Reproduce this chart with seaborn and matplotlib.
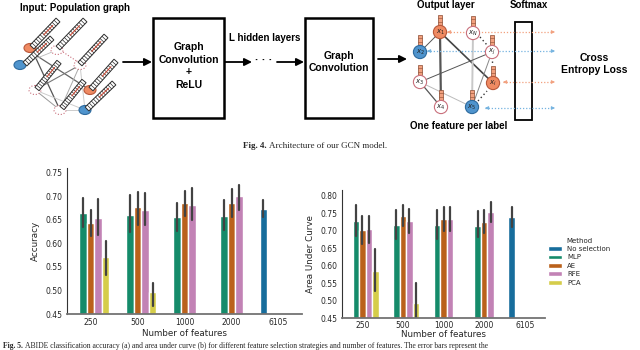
import numpy as np
import pandas as pd
import matplotlib
matplotlib.use("Agg")
import matplotlib.pyplot as plt
from matplotlib.patches import Rectangle, Polygon, Circle, Ellipse
from matplotlib.ticker import MultipleLocator, FormatStrFormatter
import seaborn as sns

# ---------------- data ----------------
features = ["250", "500", "1000", "2000", "6105"]
methods = ["No selection", "MLP", "AE", "RFE", "PCA"]
method_colors = ["#0173B2", "#029E73", "#D55E00", "#CC78BC", "#ECE133"]

bar_feature = ["250", "250", "250", "250",
               "500", "500", "500", "500",
               "1000", "1000", "1000",
               "2000", "2000", "2000",
               "6105"]
bar_method = ["MLP", "AE", "RFE", "PCA",
              "MLP", "AE", "RFE", "PCA",
              "MLP", "AE", "RFE",
              "MLP", "AE", "RFE",
              "No selection"]

acc_mean = [0.665, 0.644, 0.655, 0.571, 0.661, 0.678, 0.671, 0.497,
            0.657, 0.687, 0.682, 0.659, 0.687, 0.700, 0.674]
acc_lo = [0.636, 0.616, 0.618, 0.534, 0.625, 0.639, 0.639, 0.468,
          0.627, 0.658, 0.651, 0.629, 0.657, 0.671, 0.657]
acc_hi = [0.697, 0.671, 0.694, 0.606, 0.703, 0.709, 0.707, 0.517,
          0.686, 0.712, 0.719, 0.692, 0.715, 0.724, 0.693]

auc_mean = [0.727, 0.703, 0.705, 0.585, 0.717, 0.743, 0.729, 0.493,
            0.716, 0.734, 0.734, 0.713, 0.726, 0.754, 0.739]
auc_lo = [0.686, 0.663, 0.666, 0.526, 0.677, 0.712, 0.693, 0.440,
          0.676, 0.698, 0.698, 0.681, 0.693, 0.726, 0.710]
auc_hi = [0.774, 0.741, 0.741, 0.647, 0.758, 0.774, 0.761, 0.550,
          0.758, 0.768, 0.768, 0.755, 0.760, 0.782, 0.769]


def long_table(mean, lo, hi, name):
    rows = []
    for f, m, a, b, c in zip(bar_feature, bar_method, mean, lo, hi):
        for v in (b, a, c):
            rows.append({"Features": f, "Method": m, name: v})
    return pd.DataFrame(rows)


df_acc = long_table(acc_mean, acc_lo, acc_hi, "Accuracy")
df_auc = long_table(auc_mean, auc_lo, auc_hi, "Area Under Curve")
palette = dict(zip(methods, method_colors))

# ---------------- figure ----------------
sns.set_style("white")
plt.rcParams["font.family"] = ["DejaVu Sans"]
W, H = 640, 350
fig = plt.figure(figsize=(6.4, 3.5), dpi=100)

# diagram layer in pixel coordinates
dg = fig.add_axes([0, 0, 1, 1], zorder=0)
dg.set_xlim(0, W)
dg.set_ylim(H, 0)
dg.axis("off")

BOLD = dict(family=["Liberation Sans", "DejaVu Sans"], weight="bold", color="black")
ORANGE = "#EF8A62"
ORANGE_E = "#B9583A"
BLUE = "#4F94CD"
BLUE_E = "#2D6A9E"
NODE_E = "#C9707C"


def strip(p0, p1, w=5.4, n=13):
    p0 = np.array(p0, float)
    p1 = np.array(p1, float)
    d = p1 - p0
    L = np.hypot(*d)
    u = d / L
    nr = np.array([-u[1], u[0]]) * w / 2
    dg.add_patch(Polygon([p0 + nr, p1 + nr, p1 - nr, p0 - nr], closed=True,
                         fc="white", ec="#2e2e2e", lw=0.7, zorder=4))
    for k in range(1, n):
        c = p0 + d * k / n
        dg.plot([c[0] + nr[0], c[0] - nr[0]], [c[1] + nr[1], c[1] - nr[1]],
                color="#2e2e2e", lw=0.5, zorder=5)
    a = p0 + d * 0.45
    b = p0 + d * 0.8
    dg.plot([a[0], b[0]], [a[1], b[1]], color="#d0402a", lw=0.7, zorder=5)


def pnode(x, y, kind):
    if kind == "o":
        fc, ec, ls = ORANGE, ORANGE_E, "-"
    elif kind == "b":
        fc, ec, ls = BLUE, BLUE_E, "-"
    else:
        fc, ec, ls = "white", NODE_E, ":"
    dg.add_patch(Ellipse((x, y), 12, 9, fc=fc, ec=ec, lw=0.8, ls=ls, zorder=3))


# ---- input population graph ----
dg.text(20, 8, "Input: Population graph", fontsize=7, ha="left", va="center", **BOLD)
pop_nodes = [(30, 48, "o"), (20, 65, "b"), (57, 50, "w"), (80, 65, "w"),
             (35, 90, "w"), (60, 110, "w"), (90, 90, "o"), (85, 110, "b")]
pop_edges = [((33, 52), (60, 110), "#555555", 0.9),
             ((34, 54), (90, 90), "#666666", 0.9),
             ((35, 90), (80, 65), "#777777", 0.8),
             ((35, 90), (85, 110), "#cccccc", 0.7),
             ((35, 90), (60, 110), "#999999", 0.7),
             ((60, 110), (85, 110), "#cccccc", 0.7),
             ((80, 65), (85, 110), "#cccccc", 0.7),
             ((60, 110), (80, 65), "#aaaaaa", 0.7),
             ((20, 65), (57, 50), "#bbbbbb", 0.6)]
for (a, b, c, lw) in pop_edges:
    dg.plot([a[0], b[0]], [a[1], b[1]], color=c, lw=lw, zorder=2)
dg.plot([63, 78], [52, 62], color="#c9707c", lw=0.8, ls=":", zorder=2)
for x, y, k in pop_nodes:
    pnode(x, y, k)
pop_strips = [((32, 47), (58, 20)), ((25, 64), (52, 38)), ((58, 48), (85, 20)),
              ((80, 64), (106, 36)), ((37, 89), (59, 62)), ((62, 108), (84, 81)),
              ((91, 89), (116, 61)), ((87, 109), (114, 83))]
for a, b in pop_strips:
    strip(a, b)

# ---- arrows & blocks ----
arw = dict(arrowstyle="-|>", color="black", lw=1.3, mutation_scale=11,
           shrinkA=0, shrinkB=0)
dg.annotate("", xy=(152, 62), xytext=(123, 62), arrowprops=arw)
dg.add_patch(Rectangle((153, 18), 71, 100, fill=False, ec="black", lw=1.8))
dg.text(188.5, 66, "Graph\nConvolution\n+\nReLU", fontsize=7.5, ha="center",
        va="center", linespacing=1.3, **BOLD)
dg.text(265, 38, "L hidden layers", fontsize=7, ha="center", va="center", **BOLD)
dg.annotate("", xy=(252, 62), xytext=(225, 62), arrowprops=arw)
dg.text(264, 60, "· · ·", fontsize=8, ha="center", va="center", **BOLD)
dg.annotate("", xy=(304, 62), xytext=(277, 62), arrowprops=arw)
dg.add_patch(Rectangle((305, 18), 68, 100, fill=False, ec="black", lw=1.8))
dg.text(339, 62, "Graph\nConvolution", fontsize=7.5, ha="center", va="center",
        linespacing=1.3, **BOLD)
dg.annotate("", xy=(407, 59), xytext=(378, 59), arrowprops=arw)

# ---- output graph ----
dg.text(446, 5.5, "Output layer", fontsize=7, ha="center", va="center", **BOLD)
dg.text(529, 5.5, "Softmax", fontsize=7, ha="center", va="center", **BOLD)
dg.text(459, 126, "One feature per label", fontsize=7, ha="center", va="center", **BOLD)
dg.text(594, 64, "Cross\nEntropy Loss", fontsize=7.5, ha="center", va="center",
        linespacing=1.25, **BOLD)
dg.add_patch(Rectangle((515, 22), 17, 98, fill=False, ec="black", lw=1.3))

out_nodes = {"x1": (440, 32, "o", r"$x_1$"), "xN": (473, 33, "w", r"$x_N$"),
             "x2": (420, 52, "b", r"$x_2$"), "xj": (492, 52, "w", r"$x_j$"),
             "x3": (420, 82, "w", r"$x_3$"), "xi": (493, 83, "o", r"$x_i$"),
             "x4": (441, 107, "w", r"$x_4$"), "x5": (472, 107, "b", r"$x_5$")}
out_edges = [("x1", "x4", "#555555", 1.6), ("x1", "xi", "#444444", 1.2),
             ("xN", "x5", "#c8c8c8", 1.4), ("x1", "x2", "#555555", 0.7),
             ("x3", "xj", "#555555", 0.7), ("x3", "x4", "#555555", 0.9),
             ("x3", "x5", "#bbbbbb", 0.7), ("x5", "xj", "#888888", 0.7)]
for a, b, c, lw in out_edges:
    xa, ya = out_nodes[a][:2]
    xb, yb = out_nodes[b][:2]
    dg.plot([xa, xb], [ya, yb], color=c, lw=lw, zorder=2)
dg.plot([480, 487], [37, 45], color="#333333", lw=1.0, ls=(0, (1, 2)), zorder=2)
dg.plot([478, 487], [101, 91], color="#333333", lw=1.0, ls=(0, (1, 2)), zorder=2)
dg.plot([492, 492], [61, 70], color="#333333", lw=1.0, ls=(0, (1, 3)), zorder=2)

for key, (x, y, k, lab) in out_nodes.items():
    if k == "o":
        fc, ec = ORANGE, ORANGE_E
    elif k == "b":
        fc, ec = BLUE, BLUE_E
    else:
        fc, ec = "white", NODE_E
    dg.add_patch(Circle((x, y), 6.6, fc=fc, ec=ec, lw=0.8, zorder=4))
    dg.text(x, y, lab, fontsize=5, ha="center", va="center", zorder=6,
            color="#222222")
    dg.add_patch(Rectangle((x - 2.3, y - 17.5), 4.6, 10.5, fc="#F2A07E",
                           ec="#8a4a30", lw=0.5, zorder=3))
    for t in (1, 2):
        dg.plot([x - 2.3, x + 2.3], [y - 17.5 + t * 3.5] * 2, color="#8a4a30",
                lw=0.4, zorder=3)

arrow_rows = [(447, 32, "#F2A07E"), (427, 51, "#74B3E0"),
              (503, 82, "#F2A07E"), (485, 108, "#74B3E0")]
for x0, y, c in arrow_rows:
    dg.plot([x0, 553], [y, y], color=c, lw=0.9, ls=(0, (1, 1.5)), zorder=2)
    dg.annotate("", xy=(x0, y), xytext=(x0 + 4, y),
                arrowprops=dict(arrowstyle="-|>", color=c, lw=0.6,
                                mutation_scale=5, shrinkA=0, shrinkB=0))
    dg.annotate("", xy=(555, y), xytext=(551, y),
                arrowprops=dict(arrowstyle="-|>", color=c, lw=0.6,
                                mutation_scale=5, shrinkA=0, shrinkB=0))

# captions
SERIF = ["Liberation Serif", "DejaVu Serif"]
dg.text(243, 146, "Fig. 4.", fontsize=6.5, family=SERIF, weight="bold",
        ha="left", va="center")
dg.text(269, 146, "Architecture of our GCN model.", fontsize=6.5, family=SERIF,
        ha="left", va="center")
dg.text(3, 346, "Fig. 5.", fontsize=5.5, family=SERIF, weight="bold",
        ha="left", va="center")
dg.text(25, 346, "ABIDE classification accuracy (a) and area under curve (b) for "
        "different feature selection strategies and number of features. The error "
        "bars represent the", fontsize=5.5, family=SERIF,
        ha="left", va="center")


# ---------------- bar charts ----------------
def px_axes(x0, y0, x1, y1):
    return fig.add_axes([x0 / W, 1 - y1 / H, (x1 - x0) / W, (y1 - y0) / H], zorder=2)


ax1 = px_axes(67, 168, 302, 314)
ax2 = px_axes(342, 190, 545, 318)

common = dict(x="Features", hue="Method", order=features, hue_order=methods,
              palette=palette, estimator="median", errorbar=("pi", 100),
              err_kws={"color": ".26", "linewidth": 1.6})
sns.barplot(data=df_acc, y="Accuracy", ax=ax1, legend=False, **common)
sns.barplot(data=df_auc, y="Area Under Curve", ax=ax2, legend=True, **common)

ax1.set_ylim(0.45, 0.7606)
ax2.set_ylim(0.45, 0.8163)
for ax in (ax1, ax2):
    ax.patch.set_alpha(0)
    sns.despine(ax=ax)
    ax.yaxis.set_major_locator(MultipleLocator(0.05))
    ax.yaxis.set_major_formatter(FormatStrFormatter("%.2f"))
    ax.tick_params(labelsize=5.5, colors=".15", length=0, pad=3)
    ax.yaxis.label.set_size(6.3)
    ax.yaxis.label.set_color(".15")
    ax.spines["left"].set_color(".2")
    ax.spines["left"].set_linewidth(0.8)
    ax.spines["bottom"].set_color(".45")
    ax.spines["bottom"].set_linewidth(1.3)
ax1.set_xlabel("Number of features", fontsize=6.3, color=".15", labelpad=1)
ax2.set_xlabel("Number of features", fontsize=6.3, color=".15", labelpad=0)
ax2.tick_params(axis="x", pad=2)

sns.move_legend(ax2, "center left", bbox_to_anchor=(1.0, 0.44), frameon=False,
                title="Method", fontsize=5, title_fontsize=5, borderaxespad=0,
                handlelength=2.1, handletextpad=0.7, labelspacing=0.35)

fig.savefig("out.png", dpi=100)
